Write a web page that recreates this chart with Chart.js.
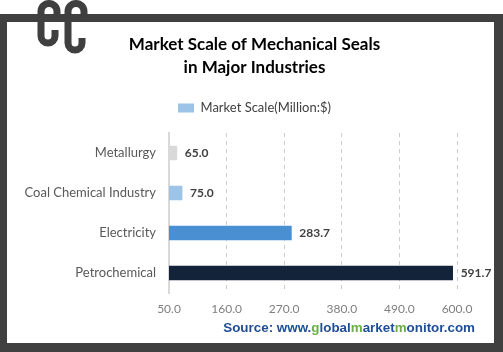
<!DOCTYPE html>
<html>
<head>
<meta charset="utf-8">
<script src="https://cdn.jsdelivr.net/npm/chart.js@4/dist/chart.umd.min.js"></script>
<style>
  html, body { margin: 0; padding: 0; background: #fff; }
  #wrap { width: 503px; height: 352px; position: relative; }
</style>
</head>
<body>
<div id="wrap"><canvas id="sealChart"></canvas></div>
<script>
// data
const industries = ['Metallurgy', 'Coal Chemical Industry', 'Electricity', 'Petrochemical'];
const marketScale = [65.0, 75.0, 283.7, 591.7];
const barColors = ['#d9d9d9', '#9dc3e6', '#4a8fd1', '#13233a'];
const xTicks = [50, 160, 270, 380, 490, 600];
const seriesName = 'Market Scale(Million:$)';
const titleLines = ['Market Scale of Mechanical Seals', 'in Major Industries'];

// frame + logo behind everything
const framePlugin = {
  id: 'frame',
  beforeDraw(chart) {
    const ctx = chart.ctx;
    ctx.save();
    ctx.fillStyle = '#404040';
    ctx.fillRect(0, 14, 494, 8);     // top
    ctx.fillRect(0, 14, 7, 338);     // left
    ctx.fillRect(494, 14, 9, 338);   // right
    ctx.fillRect(0, 343, 503, 9);    // bottom

    // logo: two hooks drawn over the top bar
    const hook = (xl, xr, bottomY, tipY) => {
      const cx = (xl + xr + 2) / 2, r = (xr + 2 - xl) / 2;
      const bx = (xl + xr) / 2, br = (xr - xl) / 2;
      ctx.beginPath();
      ctx.moveTo(xr + 2, 18);
      ctx.arc(cx, 11.5, r, 0, Math.PI, true);
      ctx.lineTo(xl, bottomY - br);
      ctx.arc(bx, bottomY - br, br, Math.PI, 0, true);
      ctx.lineTo(xr, tipY);
      ctx.stroke();
    };
    ctx.strokeStyle = '#3f3f3f';
    ctx.lineWidth = 7;
    ctx.lineCap = 'butt';
    hook(41, 55, 43, 30);
    hook(68, 82, 50, 38);
    ctx.restore();
  }
};

// value labels at bar ends
const valueLabels = {
  id: 'valueLabels',
  afterDatasetsDraw(chart) {
    const ctx = chart.ctx;
    const meta = chart.getDatasetMeta(0);
    ctx.save();
    ctx.font = 'bold 12px Lato';
    ctx.fillStyle = '#404040';
    ctx.textBaseline = 'middle';
    meta.data.forEach((bar, i) => {
      ctx.fillText(marketScale[i].toFixed(1), bar.x + 8, bar.y);
    });
    ctx.restore();
  }
};

// source line
const sourcePlugin = {
  id: 'source',
  afterDraw(chart) {
    const ctx = chart.ctx;
    const parts = [['Source: www.', '#1f4e96'], ['g', '#6aaf45'], ['lobal', '#1f4e96'], ['m', '#6aaf45'],
                   ['arket', '#1f4e96'], ['m', '#6aaf45'], ['onitor.com', '#1f4e96']];
    ctx.save();
    ctx.font = 'bold 13.4px "Liberation Sans", Arial';
    ctx.textBaseline = 'middle';
    let total = 0;
    parts.forEach(p => total += ctx.measureText(p[0]).width);
    let x = 475 - total;
    parts.forEach(p => {
      ctx.fillStyle = p[1];
      ctx.fillText(p[0], x, 328);
      x += ctx.measureText(p[0]).width;
    });
    ctx.restore();
  }
};

new Chart(document.getElementById('sealChart'), {
  type: 'bar',
  data: {
    labels: industries,
    datasets: [{
      label: seriesName,
      data: marketScale,
      backgroundColor: barColors,
      borderColor: barColors,
      borderWidth: 0,
      barThickness: 14
    }]
  },
  options: {
    indexAxis: 'y',
    responsive: true,
    maintainAspectRatio: false,
    animation: false,
    layout: { padding: { left: 10, right: 4, top: 0, bottom: 35 } },
    plugins: {
      title: {
        display: true,
        text: titleLines,
        color: '#000',
        font: { family: 'Lato', size: 17, weight: 'bold', lineHeight: 23 / 17 },
        padding: { top: 33.5, bottom: 12 }
      },
      legend: {
        display: true,
        position: 'top',
        labels: {
          color: '#404040',
          font: { family: 'Lato', size: 13 },
          boxWidth: 16,
          boxHeight: 9,
          padding: 10,
          generateLabels: () => [{
            text: seriesName,
            fillStyle: '#9dc3e6',
            strokeStyle: '#9dc3e6',
            lineWidth: 0,
            fontColor: '#404040'
          }]
        }
      },
      tooltip: { enabled: false }
    },
    scales: {
      x: {
        type: 'linear',
        position: 'bottom',
        min: xTicks[0],
        max: xTicks[xTicks.length - 1],
        afterBuildTicks: s => { s.ticks = xTicks.map(v => ({ value: v })); },
        ticks: {
          color: '#7f7f7f',
          font: { family: 'Lato', size: 12 },
          padding: 9,
          callback: v => Number(v).toFixed(1)
        },
        grid: {
          color: '#cccccc',
          lineWidth: 1,
          drawTicks: false
        },
        border: { display: false, dash: [4, 4] },
        afterFit: s => { s.height = 24; }
      },
      xTop: {
        type: 'linear',
        position: 'top',
        display: true,
        grid: { display: false },
        ticks: { display: false },
        border: { display: false },
        afterFit: s => { s.height = 8.5; }
      },
      y: {
        type: 'category',
        ticks: {
          color: '#595959',
          font: { family: 'Lato', size: 13 },
          padding: 13
        },
        grid: { display: false, drawTicks: false },
        border: { display: true, color: '#d9d9d9', width: 2 },
        afterFit: s => { s.width = 159; }
      },
      yRight: {
        type: 'linear',
        position: 'right',
        display: true,
        grid: { display: false },
        ticks: { display: false },
        border: { display: false },
        afterFit: s => { s.width = 42; }
      }
    }
  },
  plugins: [framePlugin, valueLabels, sourcePlugin]
});
</script>
</body>
</html>
